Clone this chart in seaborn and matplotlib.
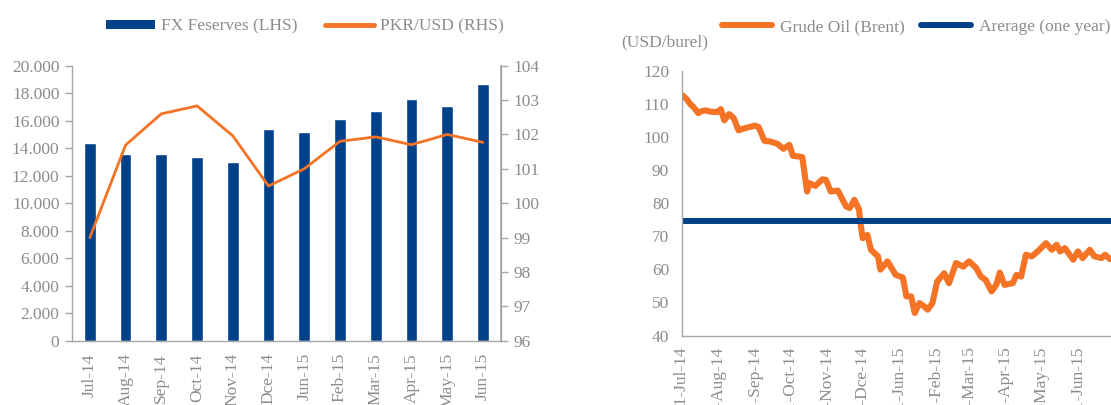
import numpy as np
import pandas as pd
import matplotlib
matplotlib.use("Agg")
import matplotlib.pyplot as plt
from matplotlib.patches import Patch
from matplotlib.lines import Line2D
import seaborn as sns

# ---------------- data ----------------
months = ["Jul-14", "Aug-14", "Sep-14", "Oct-14", "Nov-14", "Dce-14",
          "Jun-15", "Feb-15", "Mar-15", "Apr-15", "May-15", "Jun-15"]
fx_reserves = [14360, 13550, 13550, 13330, 12970, 15380,
               15160, 16120, 16700, 17580, 17070, 18680]
pkr_usd = [99.0, 101.69, 102.6, 102.83, 101.96, 100.5,
           101.0, 101.8, 101.93, 101.7, 102.0, 101.77]

oil_day = [0, 4, 7, 10, 14, 17, 20, 25, 30, 33, 36, 40, 44, 48, 54, 62, 65,
           70, 75, 81, 86, 91, 94, 102, 106, 108, 113, 119, 122, 126, 132,
           139, 142, 146, 150, 151, 153, 157, 160, 166, 168, 174, 181, 185,
           187, 190, 194, 197, 201, 205, 208, 212, 216, 222, 226, 232, 238,
           243, 249, 253, 257, 262, 266, 269, 273, 280, 283, 287, 291, 296,
           301, 308, 313, 317, 320, 324, 331, 335, 339, 345, 349, 355, 358, 362]
oil_price = [112.8, 111.5, 110.0, 109.0, 107.2, 107.8, 108.0, 107.6, 107.5,
             108.4, 105.0, 106.9, 105.7, 102.0, 102.7, 103.4, 103.0, 98.8,
             98.6, 97.9, 96.4, 97.6, 94.3, 93.9, 83.5, 86.0, 85.2, 87.2, 87.0,
             83.5, 83.8, 79.0, 78.5, 81.0, 78.0, 74.4, 69.4, 70.4, 65.9, 63.9,
             59.9, 62.4, 58.3, 57.8, 57.5, 51.8, 51.8, 46.8, 49.8, 48.8, 47.8,
             49.8, 56.3, 58.8, 55.8, 61.9, 60.8, 62.4, 60.4, 57.8, 56.8, 53.3,
             55.3, 59.0, 55.3, 55.8, 58.3, 57.8, 64.4, 63.9, 65.4, 67.9, 65.9,
             67.4, 65.4, 66.4, 62.9, 65.4, 63.4, 65.9, 63.9, 63.4, 64.4, 63.1]
oil_average = 74.6
oil_start = "2014-07-01"
oil_tick_dates = ["2014-07-01", "2014-08-01", "2014-09-01", "2014-10-01",
                  "2014-11-01", "2014-12-01", "2015-01-01", "2015-02-01",
                  "2015-03-01", "2015-04-01", "2015-05-01", "2015-06-01"]
oil_tick_labels = ["01-Jul-14", "01-Aug-14", "01-Sep-14", "01-Oct-14",
                   "01-Nov-14", "01-Dce-14", "01-Jun-15", "01-Feb-15",
                   "01-Mar-15", "01-Apr-15", "01-May-15", "01-Jun-15"]

# ---------------- style ----------------
sns.set_theme(style="white")
plt.rcParams["font.family"] = ["Liberation Serif", "DejaVu Serif"]
GRAY = "#8c8c8c"
SPINE = "#a6a6a6"
BLUE = "#00418a"
ORANGE = "#f47324"
FS = 12.5

fig = plt.figure(figsize=(11.11, 4.05), dpi=100)

# ---------------- left chart ----------------
ax1 = fig.add_axes([0.0648, 0.1588, 0.3859, 0.679])
df1 = pd.DataFrame({"pos": np.arange(len(months)), "fx": fx_reserves,
                    "pkr": pkr_usd})
sns.barplot(data=df1, x="pos", y="fx", color=BLUE, width=0.33,
            saturation=1, ax=ax1)
ax1.set_xlim(-0.5, len(months) - 0.5)
ax1.set_ylim(0, 20000)
ax1.set_yticks(np.arange(0, 20001, 2000))
ax1.set_yticklabels([f"{v:,}".replace(",", ".") for v in range(0, 20001, 2000)])
ax1.set_xticks(np.arange(len(months)))
ax1.set_xticklabels(months, rotation=90)
ax1.set_xticks(np.arange(-0.5, len(months)), minor=True)
ax1.tick_params(axis="x", which="major", length=0, pad=9, labelsize=FS,
                labelcolor=GRAY)
ax1.tick_params(axis="x", which="minor", length=5, color=SPINE, width=1,
                direction="out")
ax1.tick_params(axis="y", length=5, color=SPINE, width=1, direction="out",
                labelsize=FS, labelcolor=GRAY, pad=4)
ax1.set_xlabel("")
ax1.set_ylabel("")
for s in ["top"]:
    ax1.spines[s].set_visible(False)
for s in ["left", "bottom", "right"]:
    ax1.spines[s].set_color(SPINE)
    ax1.spines[s].set_linewidth(1)

ax1r = ax1.twinx()
sns.lineplot(data=df1, x="pos", y="pkr", color=ORANGE, linewidth=2.0,
             ax=ax1r)
ax1r.set_ylim(96, 104)
ax1r.set_yticks(np.arange(96, 105, 1))
ax1r.set_xlim(-0.5, len(months) - 0.5)
ax1r.set_ylabel("")
ax1r.tick_params(axis="y", length=5, color=SPINE, width=1, direction="out",
                 labelsize=FS, labelcolor=GRAY, pad=4)
for s in ["top", "left", "bottom"]:
    ax1r.spines[s].set_visible(False)
ax1r.spines["right"].set_color(SPINE)

h1 = [Patch(facecolor=BLUE, edgecolor="none"),
      Line2D([0], [0], color=ORANGE, lw=3.5)]
ax1.legend(h1, ["FX Feserves (LHS)", "PKR/USD (RHS)"], ncol=2,
           frameon=False, loc="center", bbox_to_anchor=(0.543, 1.142),
           fontsize=FS, labelcolor=GRAY, handlelength=2.8, handleheight=0.5,
           columnspacing=1.6, handletextpad=0.35)

# ---------------- right chart ----------------
ax2 = fig.add_axes([0.6136, 0.1716, 0.3864, 0.6538])
start = pd.Timestamp(oil_start)
df2 = pd.DataFrame({"date": start + pd.to_timedelta(oil_day, unit="D"),
                    "price": oil_price})
sns.lineplot(data=df2, x="date", y="price", color=ORANGE, linewidth=4.4,
             ax=ax2)
ax2.axhline(oil_average, color=BLUE, linewidth=4.3)
ax2.set_xlim(start, start + pd.Timedelta(days=363))
ax2.set_ylim(40, 120)
ax2.set_yticks(np.arange(40, 121, 10))
ax2.set_xticks(pd.to_datetime(oil_tick_dates))
ax2.set_xticklabels(oil_tick_labels, rotation=90)
ax2.tick_params(axis="x", length=5, color=SPINE, width=1, direction="out",
                labelsize=FS, labelcolor=GRAY, pad=3)
ax2.tick_params(axis="y", length=5, color=SPINE, width=1, direction="out",
                labelsize=FS, labelcolor=GRAY, pad=4)
ax2.set_xlabel("")
ax2.set_ylabel("")
for s in ["top", "right"]:
    ax2.spines[s].set_visible(False)
for s in ["left", "bottom"]:
    ax2.spines[s].set_color(SPINE)
    ax2.spines[s].set_linewidth(1)

fig.text(0.559, 0.896, "(USD/burel)", fontsize=FS, color=GRAY,
         ha="left", va="center")

h2 = [Line2D([0], [0], color=ORANGE, lw=4.3),
      Line2D([0], [0], color=BLUE, lw=4.3)]
fig.legend(h2, ["Grude Oil (Brent)", "Arerage (one year)"], ncol=2,
           frameon=False, loc="center", bbox_to_anchor=(0.8245, 0.933),
           fontsize=FS, labelcolor=GRAY, handlelength=2.9,
           columnspacing=0.9, handletextpad=0.45)

fig.savefig("out.png", dpi=100)
